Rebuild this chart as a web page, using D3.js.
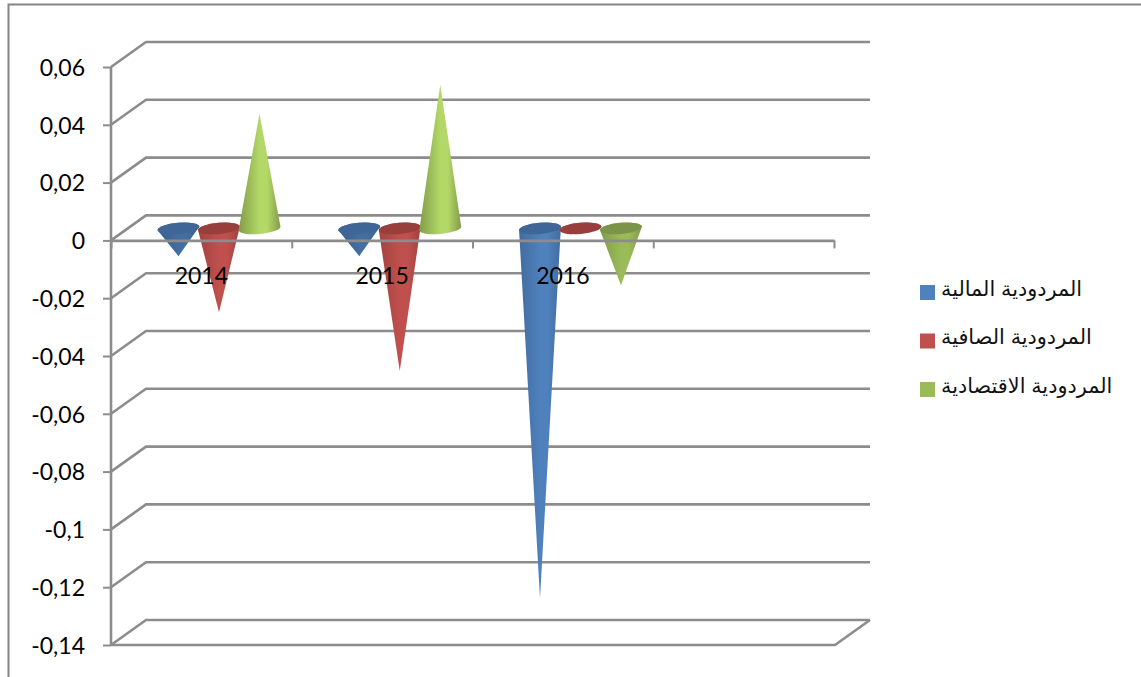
<!DOCTYPE html>
<html>
<head>
<meta charset="utf-8">
<script src="https://cdnjs.cloudflare.com/ajax/libs/d3/7.8.5/d3.min.js"></script>
<style>
html,body{margin:0;padding:0;background:#fff;overflow:hidden}
svg{display:block}
.axis text{font-family:Lato,sans-serif;font-size:23px;fill:#000}
.legend text{font-family:"Liberation Sans","DejaVu Sans",sans-serif;font-size:20.8px;fill:#111}
</style>
</head>
<body>
<svg id="chart" width="1141" height="677"></svg>
<script>
// Chart data
const categories = ["2014", "2015", "2016", ""];
const seriesNames = ["المردودية المالية", "المردودية الصافية", "المردودية الاقتصادية"];
const seriesColors = ["#4f81bd", "#c0504d", "#9bbb59"];
const financial = [-0.0096, -0.0096, -0.128];
const net = [-0.029, -0.0493, -0.0005];
const economic = [0.0397, 0.0497, -0.0197];
const yTicks = [0.06, 0.04, 0.02, 0, -0.02, -0.04, -0.06, -0.08, -0.1, -0.12, -0.14];

const seriesValues = [financial, net, economic];

const svg = d3.select("#chart");
const gridColor = "#8c8c8c";

// Plot geometry of the pseudo-3D box
const frontLeft = 111, frontRight = 834;
const plotTop = 67, plotBottom = 645;
const depthX = 35, depthY = 25;   // wall offset
const backRight = 870;
const coneLift = 12;              // cone bases sit mid-way through the depth
const coneRx = 21, coneRy = 5.6, tilt = -5;

const y = d3.scaleLinear().domain([-0.14, 0.06]).range([plotBottom, plotTop]);
const xBand = d3.scaleBand().domain(categories).range([frontLeft, frontRight]);
const xSeries = d3.scalePoint().domain(seriesNames).range([67.5, 148.5]);

// Outer frame, open on the right and at the bottom
svg.append("path")
  .attr("d", "M8.5,677V4.5H1141")
  .attr("fill", "none").attr("stroke", "#868686").attr("stroke-width", 2);

// Side wall and back wall gridlines
const grid = svg.append("g").attr("fill", "none").attr("stroke", gridColor).attr("stroke-width", 2.6);
grid.selectAll("path").data(yTicks).join("path")
  .attr("d", d => {
    const py = y(d);
    return `M${frontLeft},${py}L${frontLeft + depthX},${py - depthY}H${backRight}`;
  });

// Floor edges
grid.append("path")
  .attr("d", `M${frontLeft},${y(-0.14)}H${frontRight + 1}L${backRight},${y(-0.14) - depthY}`);

// Gradients and cones
const defs = svg.append("defs");
const cones = svg.append("g");
const rad = tilt * Math.PI / 180;

seriesValues.forEach((values, s) => {
  values.forEach((v, c) => {
    const name = seriesNames[s];
    const cx = xBand(categories[c]) + xSeries(name);
    const cy = y(0) - coneLift;
    const tipY = y(v) - coneLift;
    const base = d3.color(seriesColors[s]);
    const up = v > 0;
    const shortCone = !up && Math.abs(v) < 0.015;
    const mid = up ? base.brighter(0.4) : shortCone ? base.darker(0.45) : base;
    const edge = up ? base.darker(0.5) : shortCone ? base.darker(0.85) : base.darker(0.5);
    const id = `cone-${s}-${c}`;
    const grad = defs.append("linearGradient").attr("id", id).attr("x1", 0).attr("x2", 1).attr("y1", 0).attr("y2", 0);
    [[0, edge], [0.5, mid], [0.68, mid], [1, edge]].forEach(([o, col]) =>
      grad.append("stop").attr("offset", o).attr("stop-color", col.formatHex()));

    const lx = cx - coneRx * Math.cos(rad), ly = cy - coneRx * Math.sin(rad);
    const rx = cx + coneRx * Math.cos(rad), ry = cy + coneRx * Math.sin(rad);
    const sweep = up ? 1 : 0;
    cones.append("path")
      .attr("d", `M${lx},${ly}L${cx},${tipY}L${rx},${ry}A${coneRx},${coneRy} ${tilt} 0 ${sweep} ${lx},${ly}Z`)
      .attr("fill", `url(#${id})`);
    if (!up) {
      cones.append("ellipse")
        .attr("cx", cx).attr("cy", cy).attr("rx", coneRx).attr("ry", coneRy)
        .attr("transform", `rotate(${tilt} ${cx} ${cy})`)
        .attr("fill", base.darker(0.65).formatHex());
    }
  });
});

// Value axis
const yAxis = d3.axisLeft(y).tickValues(yTicks).tickSize(8).tickPadding(18)
  .tickFormat(d => String(d).replace(".", ","));
const yG = svg.append("g").attr("class", "axis").attr("transform", `translate(${frontLeft},0)`).call(yAxis);
yG.selectAll(".tick line").attr("stroke", gridColor).attr("stroke-width", 2);
yG.select(".domain").attr("stroke", gridColor).attr("stroke-width", 2.6).attr("d", `M0,${plotTop}V${plotBottom}`);
yG.selectAll(".tick text").attr("dy", "0.36em");

// Category axis on the zero line, with ticks between the slots
const slotEdges = d3.scalePoint().domain(d3.range(5)).range([frontLeft, frontRight]);
const xAxis = d3.axisBottom(slotEdges).tickSize(8).tickFormat("").tickSizeOuter(0);
const xG = svg.append("g").attr("transform", `translate(0,${y(0)})`).call(xAxis);
xG.selectAll(".tick line").attr("stroke", gridColor).attr("stroke-width", 2);
xG.select(".domain").attr("stroke", gridColor).attr("stroke-width", 2.6);

// Category labels below the zero line
svg.append("g").attr("class", "axis").selectAll("text").data(categories).join("text")
  .attr("x", d => xBand(d) + xBand.bandwidth() / 2)
  .attr("y", y(0) + 44)
  .attr("text-anchor", "middle")
  .text(d => d);

// Legend
const legendY = d3.scalePoint().domain(seriesNames).range([292.5, 389.5]);
const legend = svg.append("g").attr("class", "legend");
legend.selectAll("rect").data(seriesNames).join("rect")
  .attr("x", 920).attr("y", d => legendY(d) - 7.5).attr("width", 15).attr("height", 15)
  .attr("fill", (d, i) => seriesColors[i]);
legend.selectAll("text").data(seriesNames).join("text")
  .attr("x", 941).attr("y", d => legendY(d) + 3)
  .attr("text-anchor", "start")
  .text(d => d);
</script>
</body>
</html>
